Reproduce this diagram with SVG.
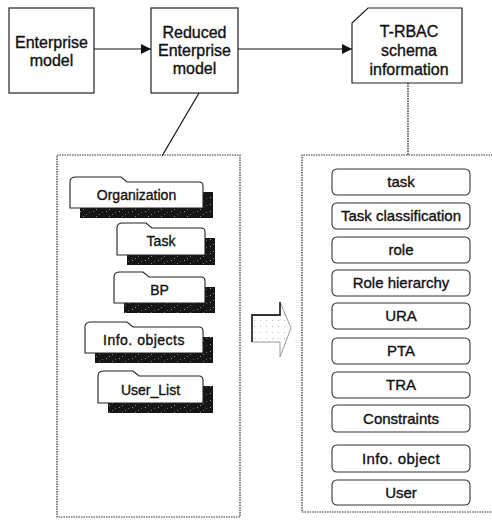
<svg xmlns="http://www.w3.org/2000/svg" width="492" height="520" viewBox="0 0 492 520">
  <style>
    .box { fill: #fff; stroke: #222; stroke-width: 1.2; }
    .lbl { font-family: "Liberation Sans", Arial, sans-serif; fill: #111; stroke: #111; stroke-width: 0.35; text-anchor: middle; }
    .big { font-size: 16px; }
    .mid { font-size: 15px; }
    .sm { font-size: 14px; }
    .panel { fill: none; stroke: #333; stroke-width: 1.2; stroke-dasharray: 1.5 1; }
    .folder { fill: #fff; stroke: #222; stroke-width: 1.1; }
    .shadow { fill: url(#speckle); }
    .item { fill: #fff; stroke: #333; stroke-width: 1.1; }
    .conn { stroke: #111; stroke-width: 1.2; fill: none; }
  </style>
  <defs>
    <pattern id="speckle" width="13" height="7" patternUnits="userSpaceOnUse">
      <rect width="13" height="7" fill="#151515"/>
      <rect x="2" y="1" width="1" height="1" fill="#999"/>
      <rect x="8" y="4" width="1" height="1" fill="#777"/>
      <rect x="11" y="2" width="1" height="1" fill="#666"/>
      <rect x="5" y="6" width="1" height="1" fill="#888"/>
    </pattern>
    <pattern id="dots" width="6" height="6" patternUnits="userSpaceOnUse">
      <rect width="6" height="6" fill="#fff"/>
      <rect x="2" y="2" width="1" height="1" fill="#bbb"/>
    </pattern>
    <marker id="arrow" viewBox="0 0 10 10" refX="10" refY="5" markerWidth="10" markerHeight="10" markerUnits="userSpaceOnUse" orient="auto">
      <path d="M0,0 L10,5 L0,10 Z" fill="#111"/>
    </marker>
  </defs>

  <!-- connectors -->
  <g id="connectors">
    <line class="conn" x1="94" y1="49" x2="151" y2="49" marker-end="url(#arrow)"/>
    <line class="conn" x1="238" y1="49" x2="352" y2="49" marker-end="url(#arrow)"/>
    <line class="conn" x1="199" y1="93" x2="162" y2="156"/>
    <line class="conn" x1="408" y1="83" x2="408" y2="155" stroke-dasharray="1.5 1"/>
  </g>

  <!-- top row -->
  <g id="enterprise-model">
    <rect class="box" x="9" y="8" width="85" height="85"/>
    <text class="lbl big" x="51.5" y="48">Enterprise</text>
    <text class="lbl big" x="51.5" y="66">model</text>
  </g>
  <g id="reduced-enterprise-model">
    <rect class="box" x="151" y="8" width="87" height="85"/>
    <text class="lbl big" x="194.5" y="38">Reduced</text>
    <text class="lbl big" x="194.5" y="56">Enterprise</text>
    <text class="lbl big" x="194.5" y="74">model</text>
  </g>
  <g id="trbac-schema">
    <polygon class="box" points="352,23 368,8 462,8 462,83 352,83"/>
    <text class="lbl big" x="409" y="37">T-RBAC</text>
    <text class="lbl big" x="409" y="56">schema</text>
    <text class="lbl big" x="409" y="75">information</text>
  </g>

  <!-- enterprise model panel -->
  <g id="model-panel">
    <rect class="panel" x="57" y="155" width="183" height="362"/>
    <g id="organization">
      <rect class="shadow" x="80" y="192" width="133" height="26"/>
      <path class="folder" d="M70,208 V182 Q70,177 76,177 H121 L127,182 H199 Q203,182 203,186 V208 Z"/>
      <text class="lbl sm" x="136.5" y="200">Organization</text>
    </g>
    <g id="task-folder">
      <rect class="shadow" x="127" y="238" width="88" height="27"/>
      <path class="folder" d="M117,255 V228 Q117,223 123,223 H146 L152,228 H201 Q205,228 205,232 V255 Z"/>
      <text class="lbl sm" x="161" y="246">Task</text>
    </g>
    <g id="bp-folder">
      <rect class="shadow" x="124" y="287" width="91" height="26"/>
      <path class="folder" d="M114,303 V277 Q114,272 120,272 H143 L149,277 H201 Q205,277 205,281 V303 Z"/>
      <text class="lbl sm" x="159.5" y="295">BP</text>
    </g>
    <g id="info-objects">
      <rect class="shadow" x="95" y="337" width="118" height="26"/>
      <path class="folder" d="M85,353 V327 Q85,322 91,322 H127 L133,327 H199 Q203,327 203,331 V353 Z"/>
      <text class="lbl sm" x="144" y="345" letter-spacing="0.5">Info. objects</text>
    </g>
    <g id="user-list">
      <rect class="shadow" x="108" y="386" width="105" height="27"/>
      <path class="folder" d="M98,403 V376 Q98,371 104,371 H133 L139,376 H199 Q203,376 203,380 V403 Z"/>
      <text class="lbl sm" x="150.5" y="395">User_List</text>
    </g>
  </g>

  <!-- transformation arrow -->
  <g id="transform-arrow">
    <polygon points="252,315 280,315 280,302 291,328 280,357 280,342 252,342" fill="url(#dots)" stroke="#999" stroke-width="1"/>
    <polyline points="252,342 252,315 280,315 280,302" fill="none" stroke="#333" stroke-width="1.8"/>
  </g>

  <!-- T-RBAC schema panel -->
  <g id="schema-panel">
    <path class="panel" d="M495,155 H302 V512 H495"/>
    <g id="item-task"><rect class="item" x="332" y="169" width="138" height="26" rx="5"/><text class="lbl mid" x="401" y="187">task</text></g>
    <g id="item-task-classification"><rect class="item" x="332" y="203" width="138" height="26" rx="5"/><text class="lbl mid" x="401" y="221">Task classification</text></g>
    <g id="item-role"><rect class="item" x="332" y="237" width="138" height="26" rx="5"/><text class="lbl mid" x="401" y="255">role</text></g>
    <g id="item-role-hierarchy"><rect class="item" x="332" y="270" width="138" height="26" rx="5"/><text class="lbl mid" x="401" y="288">Role hierarchy</text></g>
    <g id="item-ura"><rect class="item" x="332" y="303" width="138" height="26" rx="5"/><text class="lbl mid" x="401" y="321">URA</text></g>
    <g id="item-pta"><rect class="item" x="332" y="338" width="138" height="26" rx="5"/><text class="lbl mid" x="401" y="356">PTA</text></g>
    <g id="item-tra"><rect class="item" x="332" y="372" width="138" height="26" rx="5"/><text class="lbl mid" x="401" y="390">TRA</text></g>
    <g id="item-constraints"><rect class="item" x="332" y="405" width="138" height="27" rx="5"/><text class="lbl mid" x="401" y="424">Constraints</text></g>
    <g id="item-info-object"><rect class="item" x="332" y="445" width="138" height="27" rx="5"/><text class="lbl mid" x="401" y="464" letter-spacing="0.4">Info. object</text></g>
    <g id="item-user"><rect class="item" x="332" y="480" width="138" height="25" rx="5"/><text class="lbl mid" x="401" y="498">User</text></g>
  </g>
</svg>
